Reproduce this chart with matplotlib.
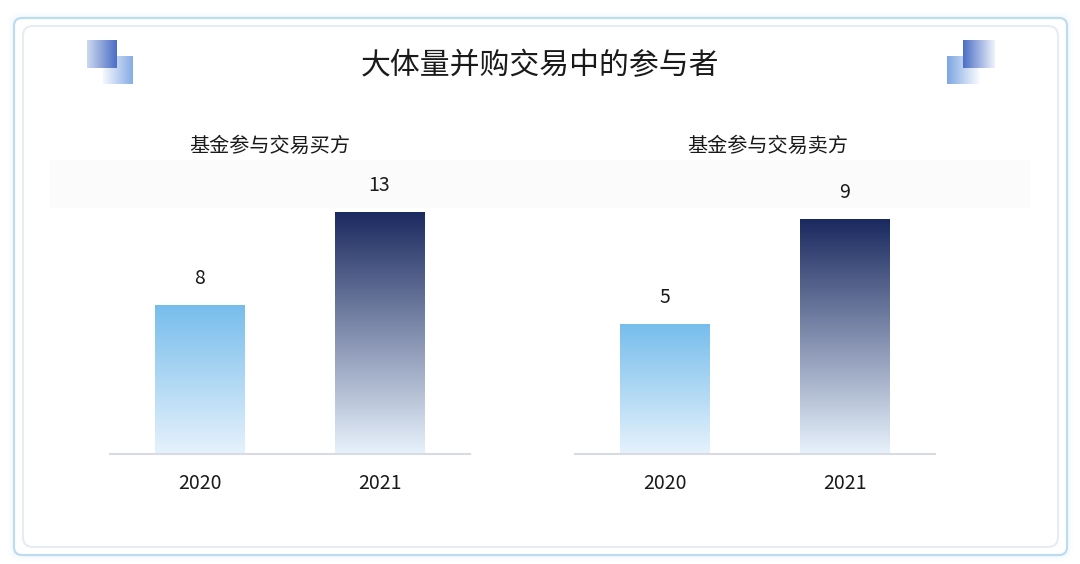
import numpy as np
import matplotlib
matplotlib.use("Agg")
import matplotlib.pyplot as plt
from matplotlib.patches import FancyBboxPatch
from matplotlib.colors import LinearSegmentedColormap

plt.rcParams['font.family'] = ['Noto Sans CJK SC', 'DejaVu Sans']

# ---- data ----
title = "大体量并购交易中的参与者"
panel_titles = ["基金参与交易买方", "基金参与交易卖方"]
years = ["2020", "2021"]
buyer_counts = [8, 13]
seller_counts = [5, 9]
panel_values = [buyer_counts, seller_counts]
panel_ymax = [14.7, 10.5]

# ---- styles ----
light_grad = LinearSegmentedColormap.from_list("light", ["#e6f2fc", "#76bdec"])
dark_grad = LinearSegmentedColormap.from_list("dark", ["#e8f2fc", "#1a295f"])
bar_cmaps = [light_grad, dark_grad]

fig = plt.figure(figsize=(10.8, 5.64), dpi=100)
fig.patch.set_facecolor("white")

# background / frame axes in pixel coordinates
bg = fig.add_axes([0, 0, 1, 1])
bg.set_xlim(0, 1080)
bg.set_ylim(564, 0)
bg.axis("off")
bg.set_zorder(-1)

# soft shadow + outer frame
for i, a in enumerate([0.05, 0.04, 0.03]):
    sh = FancyBboxPatch((14 - i, 18 - i), 1053 + 2 * i, 537 + 2 * i,
                        boxstyle="round,pad=0,rounding_size=8",
                        fc="none", ec="#a9d3ec", lw=2 + 2 * i, alpha=a)
    bg.add_patch(sh)
outer = FancyBboxPatch((14, 18), 1053, 537, boxstyle="round,pad=0,rounding_size=8",
                       fc="white", ec="#bcdcef", lw=1.6)
bg.add_patch(outer)
inner = FancyBboxPatch((23, 26), 1035, 521, boxstyle="round,pad=0,rounding_size=10",
                       fc="white", ec="#e6ecf2", lw=1.5)
bg.add_patch(inner)

# very faint band behind the panel subtitles
bg.add_patch(plt.Rectangle((50, 160), 980, 48, fc="#fbfbfc", ec="none", zorder=1))

# decorative squares
def grad_square(x0, y0, w, h, c_left, c_right):
    cm = LinearSegmentedColormap.from_list("sq", [c_left, c_right])
    g = np.linspace(0, 1, 64).reshape(1, -1)
    bg.imshow(g, cmap=cm, extent=(x0, x0 + w, y0 + h, y0), aspect="auto",
              interpolation="bicubic", zorder=3)

grad_square(103, 56, 30, 28, "#f4f7fd", "#87ace6")
grad_square(87, 40, 30, 28, "#cdd8f0", "#4b6fc6")
grad_square(947, 56, 34, 28, "#7ea6e2", "#ffffff")
grad_square(963, 40, 32, 28, "#4b6fc6", "#eef2fb")
bg.set_xlim(0, 1080)
bg.set_ylim(564, 0)

# title
fig.text(0.5, 0.883, title, ha="center", va="center", fontsize=21.5, color="#1a1a1a")

# panels
panel_lefts = [109.5 / 1080, 575 / 1080]
subtitle_x = [270 / 1080, 768 / 1080]
for k in range(2):
    ax = fig.add_axes([panel_lefts[k], 110 / 564, 360 / 1080, 274 / 564])
    ax.patch.set_alpha(0)
    vals = panel_values[k]
    x = np.arange(len(years))
    bars = ax.bar(x, vals, width=0.5, color="none", edgecolor="none")
    ax.set_xlim(-0.5, len(years) - 0.5)
    ax.set_ylim(0, panel_ymax[k])
    grad = np.linspace(0, 1, 256).reshape(-1, 1)
    for j, b in enumerate(bars):
        x0, y0 = b.get_x(), b.get_y()
        w, h = b.get_width(), b.get_height()
        cm = bar_cmaps[j]
        im = ax.imshow(grad, cmap=cm, origin="lower", extent=(x0, x0 + w, y0, y0 + h),
                       aspect="auto", interpolation="bicubic", zorder=2)
        im.set_clip_path(b)
        ax.annotate(f"{vals[j]}", (x0 + w / 2, y0 + h), xytext=(0, 19),
                    textcoords="offset points", ha="center", va="center",
                    fontsize=14, color="#1a1a1a")
    ax.set_xlim(-0.5, len(years) - 0.5)
    ax.set_ylim(0, panel_ymax[k])
    ax.set_xticks(x)
    ax.set_xticklabels(years, fontsize=14, color="#1a1a1a")
    ax.tick_params(axis="x", length=0, pad=14)
    ax.set_yticks([])
    for s in ["top", "left", "right"]:
        ax.spines[s].set_visible(False)
    ax.spines["bottom"].set_color("#d8dbe1")
    ax.spines["bottom"].set_linewidth(1.5)
    fig.text(subtitle_x[k], 0.741, panel_titles[k], ha="center", va="center",
             fontsize=14.5, color="#1a1a1a")

fig.savefig("out.png", dpi=100, facecolor="white")
